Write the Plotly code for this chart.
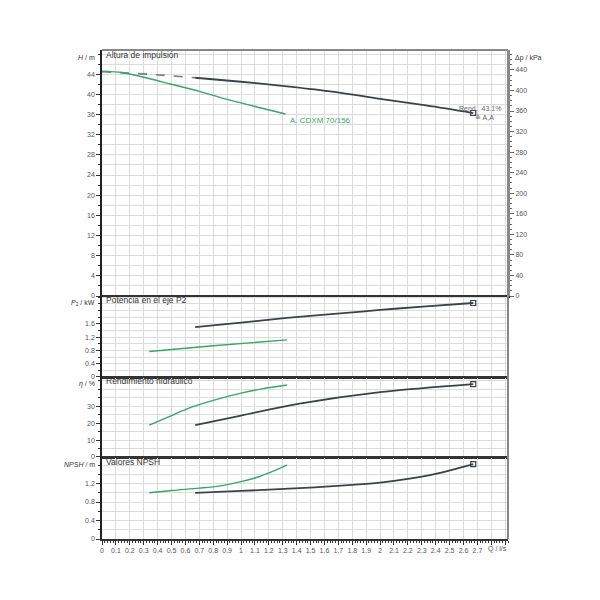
import plotly.graph_objects as go

# ---------------- data ----------------
# Pump curve (dark): dashed extension and operating range
Q_pump_ext = [0.0, 0.33, 0.67]
H_pump_ext = [44.5, 44.0, 43.3]
Q_pump = [0.67, 1.0, 1.33, 1.67, 2.0, 2.33, 2.67]
H_pump = [43.3, 42.5, 41.6, 40.5, 39.1, 37.8, 36.3]
P_pump = [1.50, 1.64, 1.78, 1.90, 2.02, 2.13, 2.23]
Q_eta_pump = [0.67, 1.0, 1.42, 2.0, 2.67]
Eta_pump = [18.8, 24.5, 31.5, 38.3, 43.1]
Q_npsh_pump = [0.67, 1.0, 1.42, 1.8, 2.0, 2.2, 2.4, 2.67]
NPSH_pump = [1.00, 1.04, 1.10, 1.17, 1.22, 1.30, 1.41, 1.62]

# Alternative pump (green) A. CDXM 70/156
Q_alt = [0.0, 0.15, 0.3, 0.5, 0.7, 0.9, 1.1, 1.32]
H_alt = [44.6, 44.3, 43.4, 42.0, 40.6, 39.0, 37.6, 36.1]
Q_alt_p = [0.34, 0.8, 1.33]
P_alt = [0.77, 0.94, 1.12]
Q_alt_eta = [0.34, 0.5, 0.63, 0.8, 1.0, 1.15, 1.33]
Eta_alt = [18.8, 24.5, 29.0, 33.5, 37.8, 40.3, 42.6]
Q_alt_npsh = [0.34, 0.5, 0.7, 0.85, 1.0, 1.1, 1.2, 1.33]
NPSH_alt = [1.00, 1.05, 1.10, 1.15, 1.24, 1.32, 1.43, 1.60]

x_ticks = [round(i * 0.1, 1) for i in range(0, 30)]
x_ticktext = [("%g" % v) if v <= 2.7 else "" for v in x_ticks]
H_ticks = list(range(0, 48, 4))
dp_ticks = list(range(0, 480, 40))
P_ticks = [0, 0.4, 0.8, 1.2, 1.6]
Eta_ticks = [0, 10, 20, 30]
NPSH_ticks = [0, 0.4, 0.8, 1.2]

H_max = 48.8
RHO_G = 9.81  # kPa per m

# ---------------- styling ----------------
DARK = "#3b4150"
GREEN = "#35a862"
GRID = "#dcdcdc"
FONT = "Liberation Sans"
TICKC = "#555555"

fig = go.Figure()

# top panel
fig.add_trace(go.Scatter(x=Q_pump_ext, y=H_pump_ext, mode="lines", line=dict(color="#777b84", width=1.6, dash="dash", shape="spline"), xaxis="x", yaxis="y", showlegend=False))
fig.add_trace(go.Scatter(x=Q_alt, y=H_alt, mode="lines", line=dict(color=GREEN, width=1.4, shape="spline"), xaxis="x", yaxis="y", showlegend=False))
fig.add_trace(go.Scatter(x=Q_pump, y=H_pump, mode="lines", line=dict(color=DARK, width=1.8, shape="spline"), xaxis="x", yaxis="y", showlegend=False))
fig.add_trace(go.Scatter(x=[Q_pump[-1]], y=[H_pump[-1]], mode="markers", marker=dict(symbol="square-open", size=5, color=DARK, line=dict(width=1.2)), xaxis="x", yaxis="y", showlegend=False))

# power panel
fig.add_trace(go.Scatter(x=Q_alt_p, y=P_alt, mode="lines", line=dict(color=GREEN, width=1.4, shape="spline"), xaxis="x2", yaxis="y2", showlegend=False))
fig.add_trace(go.Scatter(x=Q_pump, y=P_pump, mode="lines", line=dict(color=DARK, width=1.8, shape="spline"), xaxis="x2", yaxis="y2", showlegend=False))
fig.add_trace(go.Scatter(x=[Q_pump[-1]], y=[P_pump[-1]], mode="markers", marker=dict(symbol="square-open", size=5, color=DARK, line=dict(width=1.2)), xaxis="x2", yaxis="y2", showlegend=False))

# efficiency panel
fig.add_trace(go.Scatter(x=Q_alt_eta, y=Eta_alt, mode="lines", line=dict(color=GREEN, width=1.4, shape="spline"), xaxis="x3", yaxis="y3", showlegend=False))
fig.add_trace(go.Scatter(x=Q_eta_pump, y=Eta_pump, mode="lines", line=dict(color=DARK, width=1.8, shape="spline"), xaxis="x3", yaxis="y3", showlegend=False))
fig.add_trace(go.Scatter(x=[Q_eta_pump[-1]], y=[Eta_pump[-1]], mode="markers", marker=dict(symbol="square-open", size=5, color=DARK, line=dict(width=1.2)), xaxis="x3", yaxis="y3", showlegend=False))

# NPSH panel
fig.add_trace(go.Scatter(x=Q_alt_npsh, y=NPSH_alt, mode="lines", line=dict(color=GREEN, width=1.4, shape="spline"), xaxis="x4", yaxis="y4", showlegend=False))
fig.add_trace(go.Scatter(x=Q_npsh_pump, y=NPSH_pump, mode="lines", line=dict(color=DARK, width=1.8, shape="spline"), xaxis="x4", yaxis="y4", showlegend=False))
fig.add_trace(go.Scatter(x=[Q_npsh_pump[-1]], y=[NPSH_pump[-1]], mode="markers", marker=dict(symbol="square-open", size=5, color=DARK, line=dict(width=1.2)), xaxis="x4", yaxis="y4", showlegend=False))

# dummy trace for the right axis
fig.add_trace(go.Scatter(x=[None], y=[None], xaxis="x", yaxis="y5", showlegend=False, hoverinfo="skip"))

X_RANGE = [0, 2.92]
tickfont = dict(family=FONT, size=7, color=TICKC)

def xax(anchor, show_labels):
    d = dict(range=X_RANGE, anchor=anchor, domain=[0, 1], tickvals=x_ticks, ticktext=x_ticktext,
             showticklabels=show_labels, showgrid=True, gridcolor=GRID, gridwidth=1, zeroline=False,
             showline=True, linecolor="#333333", linewidth=1.5, mirror=False,
             ticks="outside" if show_labels else "", ticklen=4, tickcolor="#333333",
             tickfont=tickfont, fixedrange=True)
    if show_labels:
        d["minor"] = dict(dtick=0.02, tick0=0, ticks="outside", ticklen=2, tickcolor="#333333", showgrid=False)
    return d

def yax(domain, rng, ticks, minor_dtick, anchor):
    return dict(domain=domain, range=rng, anchor=anchor, tickvals=ticks, showgrid=True, gridcolor=GRID,
                zeroline=False, showline=True, linecolor="#222222", linewidth=1.5,
                ticks="outside", ticklen=4, tickcolor="#333333", tickfont=tickfont, fixedrange=True,
                minor=dict(dtick=minor_dtick, tick0=0, ticks="outside", ticklen=2, tickcolor="#333333",
                           showgrid=True, gridcolor=GRID))

D_N = [0, 0.1677]
D_E = [0.1677, 0.3313]
D_P = [0.3313, 0.4969]
D_H = [0.4969, 1.0]

fig.update_layout(
    width=600, height=600,
    margin=dict(l=94, r=100, t=42, b=69),
    paper_bgcolor="white", plot_bgcolor="white",
    font=dict(family=FONT, size=7, color=TICKC),
    xaxis=xax("y", False),
    xaxis2=xax("y2", False),
    xaxis3=xax("y3", False),
    xaxis4=xax("y4", True),
    yaxis=yax(D_H, [0, H_max], H_ticks, 2, "x"),
    yaxis2=yax(D_P, [0, 2.44], P_ticks, 0.2, "x2"),
    yaxis3=yax(D_E, [0, 47.3], Eta_ticks, 5, "x3"),
    yaxis4=yax(D_N, [0, 1.774], NPSH_ticks, 0.2, "x4"),
    yaxis5=dict(domain=D_H, range=[0, H_max * RHO_G], overlaying="y", side="right", anchor="x",
                tickvals=dp_ticks, showgrid=False, zeroline=False, showline=True, linecolor="#888888",
                linewidth=2, ticks="outside", ticklen=4, tickcolor="#666666", tickfont=tickfont,
                fixedrange=True,
                minor=dict(dtick=10, tick0=0, ticks="outside", ticklen=2, tickcolor="#666666")),
)

# frame and separators
shapes = []
for d in (D_N, D_E, D_P, D_H):
    shapes.append(dict(type="line", xref="paper", yref="paper", x0=0, x1=1, y0=d[1], y1=d[1],
                       line=dict(color="#333333" if d[1] < 1 else "#888888", width=1.8)))
shapes.append(dict(type="line", xref="paper", yref="paper", x0=1, x1=1, y0=0, y1=1,
                   line=dict(color="#888888", width=2)))
fig.update_layout(shapes=shapes)

ann = []
def a(text, x, y, xanchor="left", yanchor="middle", color="#333333", size=7, xref="paper", yref="paper"):
    ann.append(dict(text=text, x=x, y=y, xref=xref, yref=yref, xanchor=xanchor, yanchor=yanchor,
                    showarrow=False, font=dict(family=FONT, size=size, color=color)))

# panel titles
a("Altura de impulsión", 0.006, 0.989, size=8.5)
a("Potencia en el eje P2", 0.006, 0.4895, size=8.5)
a("Rendimiento hidráulico", 0.006, 0.3235, size=8.5)
a("Valores NPSH", 0.006, 0.158, size=8.5)
# axis titles
a("<i>H</i> / m", -0.012, 0.984, xanchor="right")
a("<i>P</i><sub>2</sub> / kW", -0.012, 0.4835, xanchor="right")
a("<i>η</i> / %", -0.012, 0.317, xanchor="right")
a("<i>NPSH</i> / m", -0.012, 0.153, xanchor="right")
a("Δp / kPa", 1.012, 0.984)
a("Q / l/s", 0.975, -0.021, xanchor="center", color=TICKC)
# curve labels
a("A. CDXM 70/156", Q_alt[-1] + 0.02, H_alt[-1], yanchor="top", color=GREEN, size=8, xref="x", yref="y")
a("Rend.  43.1%", 2.885, H_pump[-1] + 0.8, xanchor="right", color="#666666", xref="x", yref="y")
a("≙ A,A", Q_pump[-1], H_pump[-1] - 0.8, color="#666666", xref="x", yref="y")
fig.update_layout(annotations=ann)

fig.write_html("out.html")
